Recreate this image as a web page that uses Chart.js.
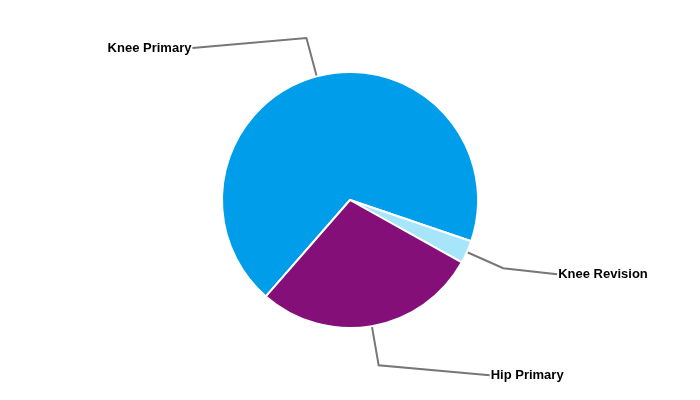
<!DOCTYPE html>
<html>
<head>
<meta charset="utf-8">
<script src="https://cdn.jsdelivr.net/npm/chart.js@4/dist/chart.umd.min.js"></script>
<style>
html,body{margin:0;padding:0;background:#fff;}
#wrap{width:700px;height:400px;}
</style>
</head>
<body>
<div id="wrap"><canvas id="c" width="700" height="400"></canvas></div>
<script>
const categories = ["Knee Primary", "Knee Revision", "Hip Primary"];
const values = [68.8, 2.9, 28.3];
const sliceColors = ["#009EEA", "#A6E5FA", "#850F79"];

// label placement relative to the leader elbow (style, not data)
const leaderStyle = {
  elbowFactor: 1.31,
  offsets: [{dx: -114, dy: 10}, {dx: 54, dy: 6}, {dx: 111, dy: 10}],
  color: "#777777",
  width: 2,
  font: "bold 13px 'Liberation Sans', Arial, sans-serif",
  textColor: "#000000"
};

const leaderPlugin = {
  id: "leaders",
  afterDatasetsDraw(chart) {
    const ctx = chart.ctx;
    const meta = chart.getDatasetMeta(0);
    meta.data.forEach((arc, i) => {
      const mid = (arc.startAngle + arc.endAngle) / 2;
      const r = arc.outerRadius;
      const cx = arc.x, cy = arc.y;
      const p0 = {x: cx + Math.cos(mid) * (r + 1), y: cy + Math.sin(mid) * (r + 1)};
      const p1 = {x: cx + Math.cos(mid) * r * leaderStyle.elbowFactor, y: cy + Math.sin(mid) * r * leaderStyle.elbowFactor};
      const off = leaderStyle.offsets[i];
      const p2 = {x: p1.x + off.dx, y: p1.y + off.dy};
      ctx.save();
      ctx.strokeStyle = leaderStyle.color;
      ctx.lineWidth = leaderStyle.width;
      ctx.beginPath();
      ctx.moveTo(p0.x, p0.y);
      ctx.lineTo(p1.x, p1.y);
      ctx.lineTo(p2.x, p2.y);
      ctx.stroke();
      ctx.font = leaderStyle.font;
      ctx.fillStyle = leaderStyle.textColor;
      ctx.textBaseline = "middle";
      if (off.dx < 0) {
        ctx.textAlign = "right";
        ctx.fillText(categories[i], p2.x - 1, p2.y);
      } else {
        ctx.textAlign = "left";
        ctx.fillText(categories[i], p2.x + 1, p2.y);
      }
      ctx.restore();
    });
  }
};

new Chart(document.getElementById("c"), {
  type: "pie",
  data: {
    labels: categories,
    datasets: [{
      data: values,
      backgroundColor: sliceColors,
      borderColor: "#ffffff",
      borderWidth: 2,
      radius: 128
    }]
  },
  options: {
    responsive: false,
    animation: false,
    rotation: 221.1,
    layout: {padding: 0},
    plugins: {
      legend: {display: false},
      tooltip: {enabled: false}
    }
  },
  plugins: [leaderPlugin]
});
</script>
</body>
</html>
